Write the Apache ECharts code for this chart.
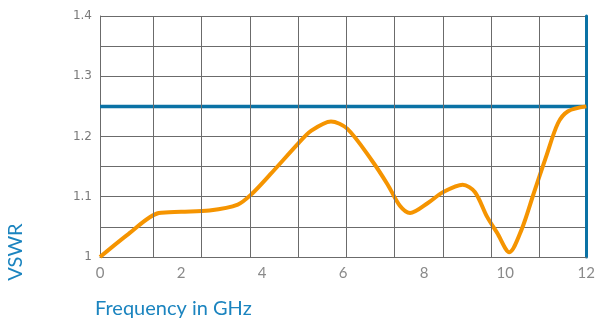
<!DOCTYPE html>
<html>
<head>
<meta charset="utf-8">
<script src="https://cdn.jsdelivr.net/npm/echarts@6/dist/echarts.min.js"></script>
<style>
  html, body { margin: 0; padding: 0; background: #fff; }
  #chart { width: 598px; height: 321px; }
</style>
</head>
<body>
<div id="chart"></div>
<script>
// Measured VSWR across the band
const freqGHz = [0, 0.7, 1.45, 2.0, 2.7, 3.4, 3.75, 4.2, 4.9, 5.2, 5.7, 6.1, 6.7, 7.1, 7.4, 7.65, 8.1, 8.45, 8.95, 9.25, 9.55, 9.8, 10.1, 10.4, 10.7, 11.0, 11.3, 11.55, 12];
const vswr    = [1.0, 1.038, 1.073, 1.075, 1.077, 1.087, 1.105, 1.137, 1.189, 1.209, 1.225, 1.213, 1.161, 1.12, 1.085, 1.073, 1.09, 1.107, 1.12, 1.108, 1.067, 1.04, 1.008, 1.045, 1.105, 1.165, 1.222, 1.242, 1.25];

// Specification limit
const limitFreq = [0, 12];
const limitVswr = [1.25, 1.25];

// Vertical grid divisions (GHz)
const verticalDivisions = [1.32, 2.51, 3.7, 4.89, 6.08, 7.27, 8.46, 9.65, 10.84];

// Axis tick labels
const xTicks = [0, 2, 4, 6, 8, 10, 12];
const xTickLabels = ['0', '2', '4', '6', '8', '10', '12'];
const yTicks = [1, 1.1, 1.2, 1.3, 1.4];
const yTickLabels = ['1', '1.1', '1.2', '1.3', '1.4'];

const GRID = '#6b6b6b';
const BLUE = '#0a72a5';
const ORANGE = '#f59400';
const TITLE_BLUE = '#1b84bf';

function labelFor(ticks, labels, v) {
  for (let i = 0; i < ticks.length; i++) {
    if (Math.abs(ticks[i] - v) < 1e-6) return labels[i];
  }
  return '';
}

const chart = echarts.init(document.getElementById('chart'), null, { renderer: 'canvas' });
chart.setOption({
  animation: false,
  backgroundColor: '#fff',
  grid: { left: 100, right: 7, top: 16, bottom: 64 },
  xAxis: {
    type: 'value', min: 0, max: 12, interval: 2,
    axisLine: { show: true, onZero: false, lineStyle: { color: GRID, width: 1 } },
    axisTick: { show: false },
    splitLine: { show: false },
    axisLabel: {
      color: '#8a8a8a', fontSize: 15, fontFamily: 'Lato', margin: 9,
      formatter: v => labelFor(xTicks, xTickLabels, v)
    }
  },
  yAxis: [
    {
      type: 'value', min: 1, max: 1.4, interval: 0.05,
      axisLine: { show: true, onZero: false, lineStyle: { color: GRID, width: 1 } },
      axisTick: { show: false },
      splitLine: { show: true, lineStyle: { color: GRID, width: 1 } },
      axisLabel: {
        color: '#7a7a7a', fontSize: 12, fontFamily: 'DejaVu Sans', margin: 8,
        formatter: v => labelFor(yTicks, yTickLabels, v)
      }
    },
    {
      // right frame edge
      type: 'value', min: 1, max: 1.4, position: 'right',
      axisLine: { show: true, onZero: false, lineStyle: { color: BLUE, width: 3 } },
      axisTick: { show: false }, axisLabel: { show: false }, splitLine: { show: false }
    }
  ],
  graphic: [
    {
      type: 'text', left: 95, top: 299,
      style: { text: 'Frequency in GHz', fill: TITLE_BLUE, font: '20px Lato' }
    },
    {
      type: 'text', x: 16, y: 252, rotation: Math.PI / 2,
      style: { text: 'VSWR', fill: TITLE_BLUE, font: '20px Lato', textAlign: 'center', textVerticalAlign: 'middle' }
    }
  ],
  series: [
    {
      // vertical grid lines
      type: 'line', data: [], z: 1, silent: true,
      markLine: {
        silent: true, symbol: ['none', 'none'], label: { show: false },
        lineStyle: { color: GRID, width: 1, type: 'solid' },
        emphasis: { disabled: true },
        data: verticalDivisions.map(x => ({ xAxis: x }))
      }
    },
    {
      type: 'line',
      data: limitFreq.map((f, i) => [f, limitVswr[i]]),
      showSymbol: false, lineStyle: { color: BLUE, width: 3.5 }, z: 3
    },
    {
      type: 'line',
      data: freqGHz.map((f, i) => [f, vswr[i]]),
      smooth: 0.3, showSymbol: false,
      lineStyle: { color: ORANGE, width: 4 }, z: 4
    }
  ]
});
</script>
</body>
</html>
